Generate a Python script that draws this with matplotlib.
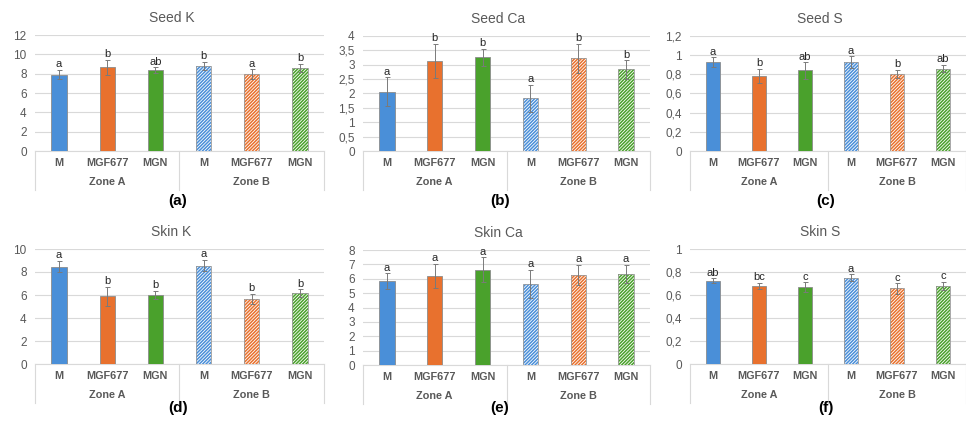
import numpy as np
import matplotlib
matplotlib.use('Agg')
import matplotlib.pyplot as plt
from matplotlib.ticker import FuncFormatter

plt.rcParams['font.family'] = ['Liberation Sans', 'DejaVu Sans']
plt.rcParams['hatch.linewidth'] = 1.1

# data
treatments = ['M', 'MGF677', 'MGN', 'M', 'MGF677', 'MGN']
zones = ['Zone A', 'Zone B']
colors = ['#4a8fd8', '#e8712e', '#4aa12c']

titles = ['Seed K', 'Seed Ca', 'Seed S', 'Skin K', 'Skin Ca', 'Skin S']
panel_labels = ['(a)', '(b)', '(c)', '(d)', '(e)', '(f)']

seed_k = [7.9, 8.65, 8.35, 8.8, 7.95, 8.6]
seed_k_err = [0.5, 0.8, 0.3, 0.45, 0.5, 0.4]
seed_k_let = ['a', 'b', 'ab', 'b', 'a', 'b']

seed_ca = [2.06, 3.13, 3.26, 1.83, 3.22, 2.84]
seed_ca_err = [0.5, 0.6, 0.3, 0.48, 0.5, 0.32]
seed_ca_let = ['a', 'b', 'b', 'a', 'b', 'b']

seed_s = [0.93, 0.785, 0.84, 0.93, 0.805, 0.86]
seed_s_err = [0.05, 0.075, 0.085, 0.06, 0.045, 0.04]
seed_s_let = ['a', 'b', 'ab', 'a', 'b', 'ab']

skin_k = [8.46, 5.87, 6.02, 8.55, 5.64, 6.16]
skin_k_err = [0.5, 0.85, 0.35, 0.5, 0.45, 0.35]
skin_k_let = ['a', 'b', 'b', 'a', 'b', 'b']

skin_ca = [5.82, 6.19, 6.63, 5.64, 6.26, 6.33]
skin_ca_err = [0.55, 0.85, 0.87, 0.98, 0.7, 0.65]
skin_ca_let = ['a', 'a', 'a', 'a', 'a', 'a']

skin_s = [0.724, 0.68, 0.67, 0.75, 0.657, 0.68]
skin_s_err = [0.02, 0.025, 0.04, 0.03, 0.045, 0.035]
skin_s_let = ['ab', 'bc', 'c', 'a', 'c', 'c']

values = [seed_k, seed_ca, seed_s, skin_k, skin_ca, skin_s]
errors = [seed_k_err, seed_ca_err, seed_s_err, skin_k_err, skin_ca_err, skin_s_err]
letters = [seed_k_let, seed_ca_let, seed_s_let, skin_k_let, skin_ca_let, skin_s_let]
yticks = [np.arange(0, 12.1, 2), np.arange(0, 4.01, 0.5), np.arange(0, 1.21, 0.2),
          np.arange(0, 10.1, 2), np.arange(0, 8.1, 1), np.arange(0, 1.01, 0.2)]

W, H = 966, 423
fig = plt.figure(figsize=(W / 100, H / 100), dpi=100)

# axes boxes in pixels: left, right, top, bottom
boxes = [(35, 324, 35, 151), (363, 650, 36, 151), (690, 966, 36, 151),
         (35, 324, 249, 364), (363, 650, 250, 365), (690, 966, 249, 364)]
label_x = [178, 500, 826, 178, 500, 826]
label_y = [201, 201, 201, 408, 408, 408]

grey = '#595959'
line_grey = '#d9d9d9'


def comma_fmt(v, pos):
    s = ('%.1f' % v).rstrip('0').rstrip('.')
    return s.replace('.', ',')


for i in range(6):
    l, r, t, b = boxes[i]
    ax = fig.add_axes([l / W, 1 - b / H, (r - l) / W, (b - t) / H])
    x = np.arange(6)
    vals = values[i]
    errs = errors[i]
    for j in range(6):
        c = colors[j % 3]
        if j < 3:
            ax.bar(x[j], vals[j], width=0.32, color=c, edgecolor='#8c8c8c',
                   linewidth=0.6, zorder=3)
        else:
            ax.bar(x[j], vals[j], width=0.32, facecolor='white', edgecolor=c,
                   hatch='//////////', linewidth=0, zorder=3)
            ax.bar(x[j], vals[j], width=0.32, fill=False, edgecolor='#9a9a9a',
                   linewidth=0.6, zorder=4)
    ax.errorbar(x, vals, yerr=errs, fmt='none', ecolor='#7a7a7a',
                elinewidth=0.7, capsize=1.8, capthick=0.7, zorder=5)
    ymax = yticks[i][-1]
    for j in range(6):
        ax.text(x[j], vals[j] + errs[j] + ymax * 0.005, letters[i][j],
                ha='center', va='bottom', fontsize=8, color='#262626', zorder=6)

    ax.set_xlim(-0.5, 5.5)
    ax.set_ylim(0, ymax)
    ax.set_yticks(yticks[i])
    ax.yaxis.set_major_formatter(FuncFormatter(comma_fmt))
    ax.tick_params(axis='y', length=0, labelsize=8.5, labelcolor=grey, pad=6)
    ax.tick_params(axis='x', length=0, labelbottom=False)
    ax.grid(axis='y', color=line_grey, linewidth=0.8, zorder=0)
    ax.set_axisbelow(True)
    for s in ['top', 'right', 'left']:
        ax.spines[s].set_visible(False)
    ax.spines['bottom'].set_color(line_grey)
    ax.spines['bottom'].set_linewidth(0.8)

    # two-level category axis
    h = b - t
    tr = ax.get_xaxis_transform()
    for xs in [-0.5, 2.5, 5.5]:
        ax.plot([xs, xs], [0, -39 / h], color=line_grey, linewidth=0.8,
                transform=tr, clip_on=False)
    for j in range(6):
        ax.text(x[j], -12 / h, treatments[j], transform=tr, ha='center',
                va='center', fontsize=7.8, fontweight='bold', color=grey)
    for k in range(2):
        ax.text(1 + 3 * k, -31 / h, zones[k], transform=tr, ha='center',
                va='center', fontsize=7.8, fontweight='bold', color=grey)

    fig.text(((l + r) / 2 - 8) / W, 1 - (t - 17) / H, titles[i], ha='center',
             va='center', fontsize=10, color=grey)
    fig.text(label_x[i] / W, 1 - label_y[i] / H, panel_labels[i], ha='center',
             va='center', fontsize=11, fontweight='bold', color='black')

fig.savefig('out.png', dpi=100, facecolor='white')
